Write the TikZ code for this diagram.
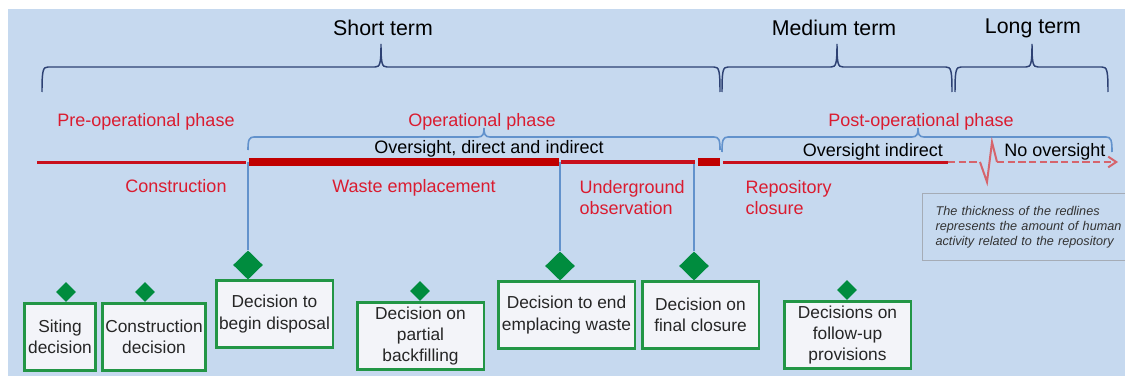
\documentclass[tikz,border=0pt]{standalone}
\usepackage{fontspec}
\setmainfont{Liberation Sans}
\usetikzlibrary{shapes.geometric,arrows.meta,positioning}

\definecolor{bgblue}{RGB}{198,217,239}
\definecolor{phasered}{RGB}{218,28,48}
\definecolor{linered}{RGB}{200,16,28}
\definecolor{darkred}{RGB}{192,0,0}
\definecolor{fadered}{RGB}{214,100,108}
\definecolor{navyline}{RGB}{45,65,115}
\definecolor{midblue}{RGB}{98,146,204}
\definecolor{decgreen}{RGB}{0,140,62}
\definecolor{boxgreen}{RGB}{34,150,70}
\definecolor{boxfill}{RGB}{243,244,249}
\definecolor{notegray}{RGB}{165,172,182}

% brace: [style]{left x}{tip x}{right x}{bar y}{end depth}{tip height}
\newcommand{\phasebrace}[7][]{%
  \draw[#1] (#2,#5+#6) .. controls (#2,#5+3) and (#2+1,#5) .. (#2+6,#5)
    -- (#3-6,#5) .. controls (#3-1,#5) and (#3,#5-3) .. (#3,#5-#7)
    .. controls (#3,#5-3) and (#3+1,#5) .. (#3+6,#5)
    -- (#4-6,#5) .. controls (#4-1,#5) and (#4,#5+3) .. (#4,#5+#6);}

\tikzset{every picture/.style={line width=0.75pt}}
\tikzset{
  termtext/.style={font=\fontsize{16}{19}\selectfont, text=black, inner sep=0.75pt},
  phasetext/.style={font=\fontsize{13.5}{16}\selectfont, text=phasered, inner sep=0.75pt},
  overtext/.style={font=\fontsize{13.5}{16}\selectfont, text=black, inner sep=0.75pt},
  topbrace/.style={draw=navyline, line width=1.1pt},
  subbrace/.style={draw=midblue, line width=1.2pt},
  vline/.style={draw=midblue, line width=1.1pt},
  thinred/.style={draw=linered, line width=2.25pt},
  thickred/.style={draw=darkred, line width=6pt},
  fadeline/.style={draw=fadered, line width=1.5pt},
  fadedash/.style={fadeline, dash pattern=on 5.5pt off 2.5pt},
  decbox/.style={draw=boxgreen, line width=1.9pt, fill=boxfill, align=center,
    font=\fontsize{13}{16}\selectfont, text=black!85, inner sep=1pt, minimum height=50.6pt},
  smalldia/.style={diamond, fill=decgreen, inner sep=0pt, minimum width=15pt, minimum height=15pt},
  bigdia/.style={diamond, fill=decgreen, inner sep=0pt, minimum width=22.5pt, minimum height=22pt},
  notebox/.style={draw=notegray, line width=0.9pt, fill=bgblue, align=left, text width=140pt,
    inner xsep=9.75pt, minimum height=50pt, text=black!80,
    font=\fontsize{9.5}{11.25}\selectfont\itshape}
}

\begin{document}
\begin{tikzpicture}[x=0.75pt,y=0.75pt,yscale=-1,xscale=1]
\useasboundingbox (0,0) rectangle (1125,378);
%Background
\fill[bgblue] (8,9) rectangle (1125,376);

%Terms
\phasebrace[topbrace]{42}{381}{720}{67}{25}{23}
\phasebrace[topbrace]{722}{837}{952}{67}{25}{23}
\phasebrace[topbrace]{955}{1032}{1108}{67}{25}{23}
% Text Node
\node[termtext] (shortT) at (383,28) {Short term};
% Text Node
\node[termtext] (mediumT) at (834,28) {Medium term};
% Text Node
\node[termtext] (longT) at (1033,28) {Long term};

%Phases
\phasebrace[subbrace]{248}{484}{720}{137}{13}{9}
\phasebrace[subbrace]{722}{918}{1112}{137}{15}{9}
% Text Node
\node[phasetext] (preOp) at (146,122) {Pre-operational phase};
% Text Node
\node[phasetext] (oper) at (482,122) {Operational phase};
% Text Node
\node[phasetext] (postOp) at (921,122) {Post-operational phase};
% Text Node
\node[overtext] (ovDirect) at (489,149) {Oversight, direct and indirect};
% Text Node
\node[overtext] (ovIndirect) at (873,152) {Oversight indirect};
% Text Node
\node[overtext] (noOv) at (1055,152) {No oversight};

%Decisions
\node[decbox, minimum width=53.6pt] (bSiting) at (60,337) {Siting\\decision};
\node[decbox, minimum width=77.6pt] (bConstr) at (154,337) {Construction\\decision};
\node[decbox, minimum width=87.4pt] (bBegin) at (274.5,314) {Decision to\\begin disposal};
\node[decbox, minimum width=94.9pt] (bBackfill) at (420.5,336) {Decision on\\partial\\backfilling};
\node[decbox, minimum width=102.4pt] (bEnd) at (566.5,315) {Decision to end\\emplacing waste};
\node[decbox, minimum width=87.4pt] (bClosure) at (700.5,315) {Decision on\\final closure};
\node[decbox, minimum width=94.9pt] (bFollow) at (847.5,335) {Decisions on\\follow-up\\provisions};

\node[smalldia] (dSiting) at (66,292) {};
\node[smalldia] (dConstr) at (145,292) {};
\node[bigdia] (dBegin) at (248,265) {};
\node[smalldia] (dBackfill) at (420,291) {};
\node[bigdia] (dEnd) at (560,266) {};
\node[bigdia] (dClosure) at (694,266) {};
\node[smalldia] (dFollow) at (847,290) {};

\coordinate (tBegin) at (248,162);
\coordinate (tEnd) at (560,162);
\coordinate (tClosure) at (694,162);
\draw[vline] (tBegin) -- (dBegin.north);
\draw[vline] (tEnd) -- (dEnd.north);
\draw[vline] (tClosure) -- (dClosure.north);

%Red timeline
\draw[thinred] (37,162) -- (246,162);
\draw[thickred] (249,162) -- (559,162);
\draw[draw=linered, line width=3pt] (561,162) -- (695,162);
\draw[thickred, line width=5.5pt] (698,162) -- (720,162);
\draw[thinred] (723,162) -- (948,162);
\draw[fadedash] (948,162) -- (980,162);
\draw[fadeline] (980,162) -- (987,182) -- (992,142) -- (997,162);
\draw[fadedash, -{Straight Barb[length=6pt,width=8pt]}] (997,162) -- (1118,162);

% Text Node
\node[phasetext] (constr) at (176,186) {Construction};
% Text Node
\node[phasetext] (waste) at (414,188) {Waste emplacement};
% Text Node
\node[phasetext, anchor=north west, align=left] (underground) at (578,179) {Underground\\observation};
% Text Node
\node[phasetext, anchor=north west, align=left] (reposClosure) at (744,179) {Repository\\closure};

%Note
\node[notebox, anchor=north west] (note) at (922,193) {The thickness of the redlines\\represents the amount of human\\activity related to the repository};

\end{tikzpicture}
\end{document}
